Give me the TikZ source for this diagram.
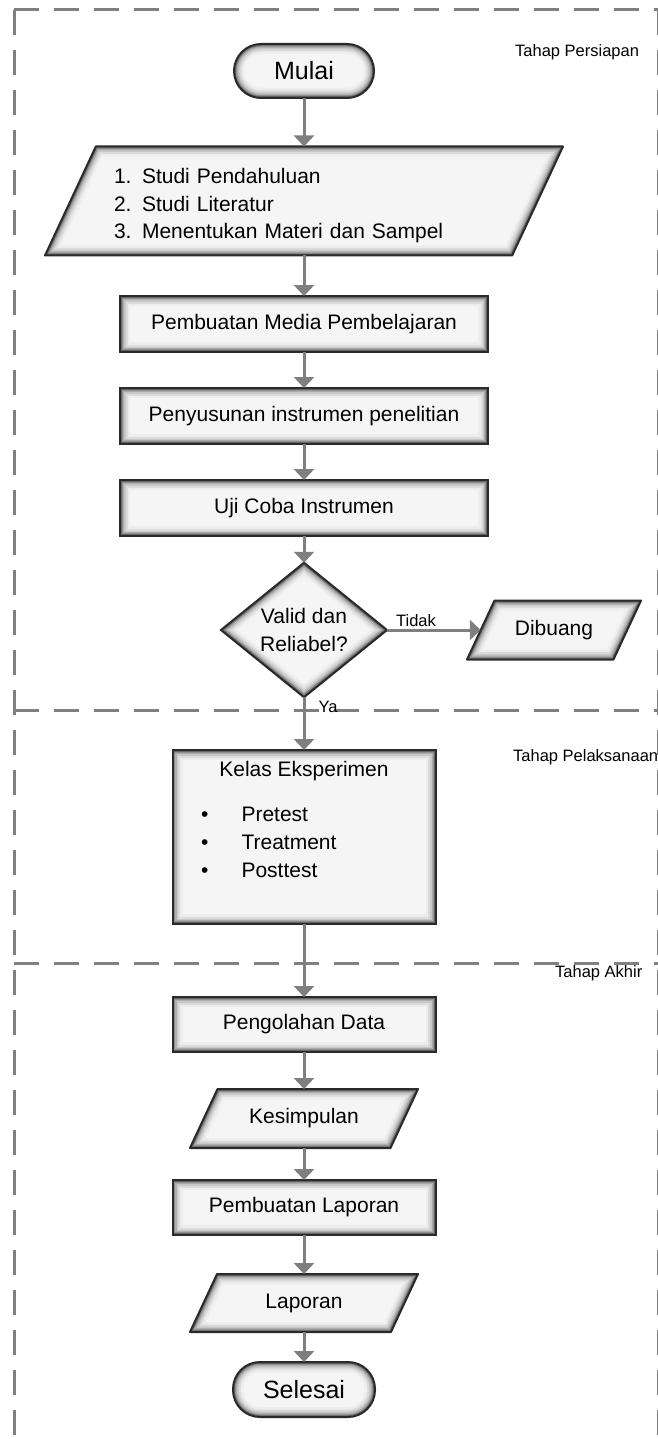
\documentclass[tikz,border=0pt]{standalone}
\usepackage{fontspec}
\setmainfont{Liberation Sans}
\usetikzlibrary{shapes.geometric,arrows.meta}
\definecolor{arrowgray}{HTML}{7F7F7F}
\definecolor{dashgray}{HTML}{808080}
\definecolor{edgegray}{HTML}{2A2A2A}
\definecolor{boxfill}{HTML}{F5F5F5}
\newcommand\glowrect[2]{\draw[line width=#1,black!#2] (path picture bounding box.south west) rectangle (path picture bounding box.north east);}
\newcommand\glowround[2]{\draw[line width=#1,black!#2,rounded corners=27pt] (path picture bounding box.south west) rectangle (path picture bounding box.north east);}
\newcommand\glowdiam[2]{\draw[line width=#1,black!#2] (path picture bounding box.north) -- (path picture bounding box.east) -- (path picture bounding box.south) -- (path picture bounding box.west) -- cycle;}
% parallelogram: #1 name, #2 x, #3 y, #4 total width, #5 height, #6 node options, #7 text
\newcommand\ioshape[7]{%
  \pgfmathsetmacro\dd{#5*0.46631}%
  \pgfmathsetmacro\xl{#2-#4/2}\pgfmathsetmacro\xr{#2+#4/2}%
  \pgfmathsetmacro\yt{#3-#5/2}\pgfmathsetmacro\yb{#3+#5/2}%
  \pgfmathsetmacro\ww{#4-\dd}%
  \coordinate (#1A) at (\xl+\dd,\yt);
  \coordinate (#1B) at (\xr,\yt);
  \coordinate (#1C) at (\xr-\dd,\yb);
  \coordinate (#1D) at (\xl,\yb);
  \begin{scope}
    \clip (#1A) -- (#1B) -- (#1C) -- (#1D) -- cycle;
    \fill[boxfill] (#1D) rectangle (#1B);
    \foreach \w/\c in {20/7,15/14,11/22,8/32,5.5/44,3.5/60}
      \draw[line width=\w pt, black!\c] (#1A) -- (#1B) -- (#1C) -- (#1D) -- cycle;
  \end{scope}
  \draw[edgegray, line width=2pt, line join=round] (#1A) -- (#1B) -- (#1C) -- (#1D) -- cycle;
  \node[txt, minimum width=\ww pt, minimum height=#5pt, #6] (#1) at (#2,#3) {#7};
}
\tikzset{
  txt/.style={inner sep=0pt, outer sep=0pt, font=\fontsize{21}{27.5}\selectfont, align=center},
  base/.style={draw=edgegray, line width=2pt, fill=boxfill, inner sep=1pt, outer sep=0pt,
    font=\fontsize{21}{27.5}\selectfont, align=center},
  procbox/.style={base, rectangle,
    path picture={\glowrect{20pt}{7}\glowrect{15pt}{14}\glowrect{11pt}{22}\glowrect{8pt}{32}\glowrect{5.5pt}{44}\glowrect{3.5pt}{60}}},
  termbox/.style={base, rectangle, rounded corners=27pt, font=\fontsize{25}{30}\selectfont,
    path picture={\glowround{20pt}{7}\glowround{15pt}{14}\glowround{11pt}{22}\glowround{8pt}{32}\glowround{5.5pt}{44}\glowround{3.5pt}{60}}},
  diambox/.style={base, diamond,
    path picture={\glowdiam{20pt}{7}\glowdiam{15pt}{14}\glowdiam{11pt}{22}\glowdiam{8pt}{32}\glowdiam{5.5pt}{44}\glowdiam{3.5pt}{60}}},
  flow/.style={draw=arrowgray, line width=3pt, -{Triangle[width=20pt,length=11pt]}},
  sect/.style={draw=dashgray, line width=3pt, dash pattern=on 25pt off 15pt},
  phase/.style={font=\fontsize{16.5}{20}\selectfont, inner sep=0pt, anchor=west},
  lbl/.style={font=\fontsize{16.5}{20}\selectfont, inner sep=0pt}
}
\begin{document}
\begin{tikzpicture}[x=1pt,y=-1pt]
\useasboundingbox (0,0) rectangle (657,1439);
% section frames
\coordinate (ftl) at (14,10);
\coordinate (fbl) at (14,1450);
\coordinate (ftr) at (662,10);
\coordinate (frt) at (658,10);
\coordinate (frb) at (658,1450);
\coordinate (m1l) at (14,710);
\coordinate (m1r) at (662,710);
\coordinate (m2l) at (14,963);
\coordinate (m2r) at (662,963);
\draw[sect] (ftl) -- (fbl);
\draw[sect] (ftl) -- (ftr);
\draw[sect] (frt) -- (frb);
\draw[sect] (m1l) -- (m1r);
\draw[sect] (m2l) -- (m2r);
\node[phase] (p1) at (515,52) {Tahap Persiapan};
\node[phase] (p2) at (513,757) {Tahap Pelaksanaan};
\node[phase] (p3) at (555,973) {Tahap Akhir};
% nodes
\node[termbox, minimum width=140pt, minimum height=54pt] (mulai) at (304,71) {Mulai};
\ioshape{studi}{304}{201}{518}{109}{}{}
\node[txt, text width=380pt, align=left] (studiT) at (304,206)
  {1. Studi Pendahuluan\\2. Studi Literatur\\3. Menentukan Materi dan Sampel};
\node[procbox, minimum width=368pt, minimum height=56pt] (media) at (304,324) {Pembuatan Media Pembelajaran};
\node[procbox, minimum width=368pt, minimum height=56pt] (susun) at (304,416) {Penyusunan instrumen penelitian};
\node[procbox, minimum width=368pt, minimum height=56pt] (uji) at (304,508) {Uji Coba Instrumen};
\node[diambox, minimum width=166pt, minimum height=124pt] (valid) at (304,630) {Valid dan\\Reliabel?};
\ioshape{buang}{554}{630}{174}{59}{}{Dibuang}
\node[procbox, minimum width=263pt, minimum height=174pt] (kelas) at (304,837) {};
\node[txt] (kelasT) at (304,771) {Kelas Eksperimen};
\node[font=\fontsize{21}{28}\selectfont, inner sep=0pt, anchor=west] (kelasL) at (201,844)
  {\begin{tabular}{@{}l@{\hspace{33pt}}l@{}}•&Pretest\\•&Treatment\\•&Posttest\end{tabular}};
\node[procbox, minimum width=263pt, minimum height=55pt] (olah) at (304,1024.5) {Pengolahan Data};
\ioshape{simpul}{304}{1118.5}{228}{59}{}{Kesimpulan}
\node[procbox, minimum width=263pt, minimum height=55pt] (buat) at (304,1207.5) {Pembuatan Laporan};
\ioshape{lapor}{304}{1303}{228}{58}{}{Laporan}
\node[termbox, minimum width=142pt, minimum height=55pt] (selesai) at (304,1389.5) {Selesai};
% connectors
\draw[flow] (mulai) -- (studi);
\draw[flow] (studi) -- (media);
\draw[flow] (media) -- (susun);
\draw[flow] (susun) -- (uji);
\draw[flow] (uji) -- (valid);
\draw[flow] (valid.east) -- (buang.west);
\draw[flow] (valid.south) -- (kelas.north);
\draw[flow] (kelas) -- (olah);
\draw[flow] (olah) -- (simpul);
\draw[flow] (simpul) -- (buat);
\draw[flow] (buat) -- (lapor);
\draw[flow] (lapor) -- (selesai);
\node[lbl] (tidak) at (416,621) {Tidak};
\node[lbl] (ya) at (328,707) {Ya};
\end{tikzpicture}
\end{document}
